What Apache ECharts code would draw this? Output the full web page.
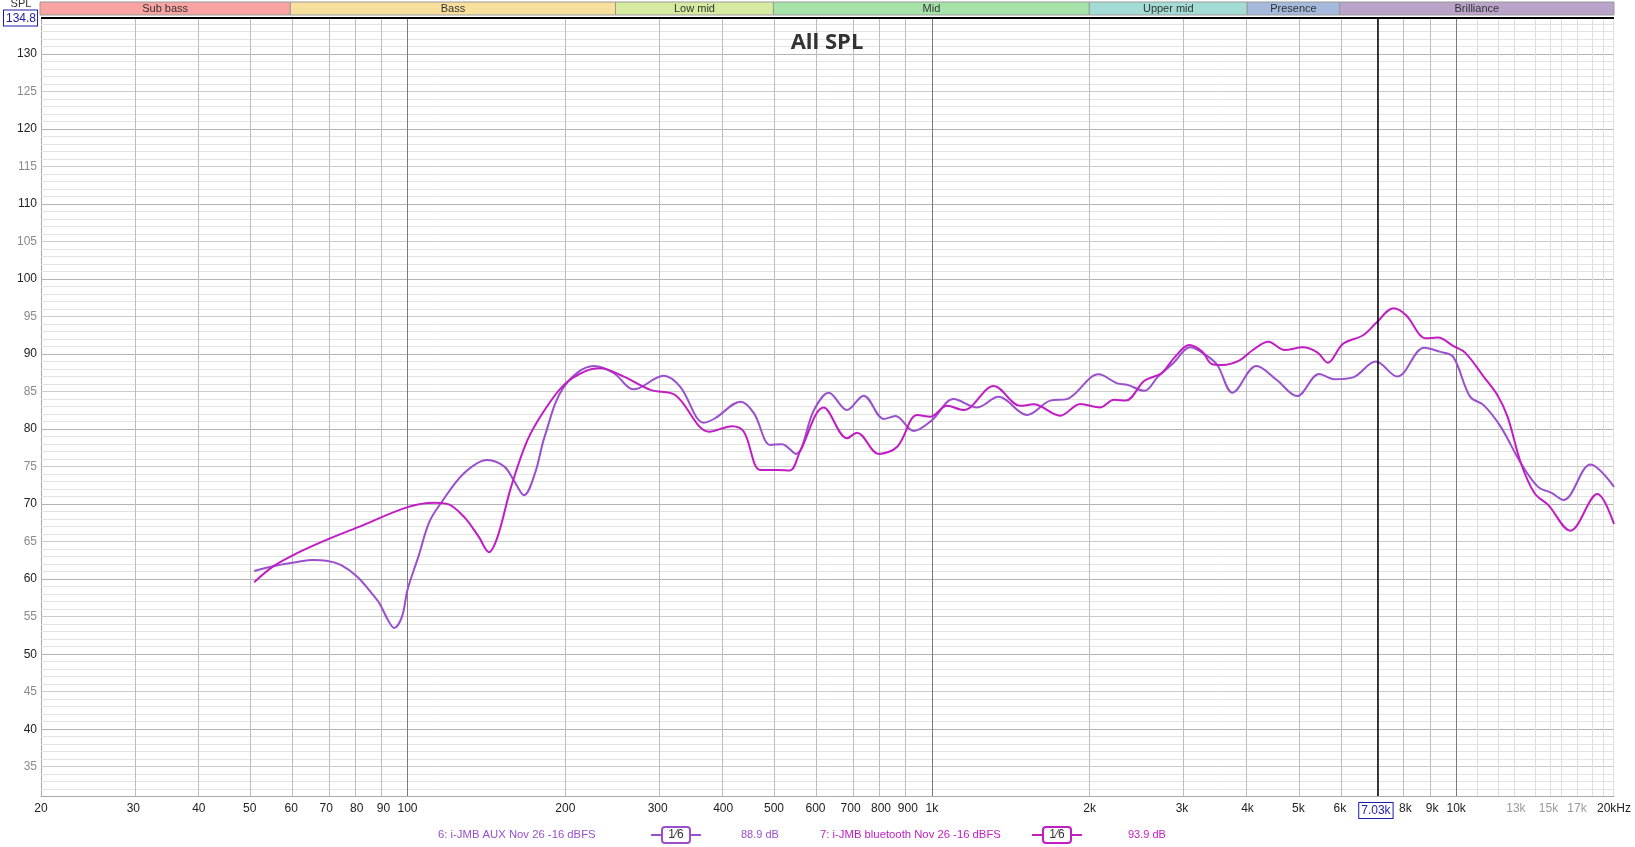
<!DOCTYPE html>
<html><head><meta charset="utf-8">
<script src="https://cdn.jsdelivr.net/npm/echarts@6/dist/echarts.min.js"></script>
<style>html,body{margin:0;padding:0;background:#fff}#c{width:1635px;height:847px}</style>
</head><body><div id="c"></div>
<script>
// ---------- data ----------
const auxFreq = [51,56,61.7,66,70,74.6,80.3,86.4,88.4,91.7,94.3,97.6,100,105,110,115.7,128,142,153,160,166.8,175,182.6,198.8,226.7,247.5,270,308,331,367.5,386,432,458,492,518,550,596,636,689,741,810,852,924,1001,1100,1220,1340,1519,1682,1809,2080,2258,2361,2543,2700,2886,3110,3326,3503,3745,4159,4549,4973,5478,5858,6360,7025,7720,8694,9297,9864,10630,11282,12157,13290,14330,15200,16020,18050,20000];
const auxSpl  = [61.1,61.8,62.3,62.55,62.47,61.9,60.3,57.7,56.8,54.6,53.5,55.0,58.6,63.1,67.6,70.1,74.1,75.9,75.0,73.0,71.2,74.1,79.0,85.66,88.4,87.45,85.3,87.1,85.66,80.86,81.45,83.66,82.1,77.9,78.0,76.7,82.55,84.86,82.55,84.46,81.35,81.75,79.75,81.2,84.0,82.9,84.3,81.9,83.8,84.0,87.3,86.1,85.9,85.1,87.0,88.78,90.9,89.9,88.55,84.86,88.4,86.55,84.4,87.35,86.65,86.9,89.0,87.0,90.86,90.33,89.66,84.33,83.2,80.33,75.45,72.3,71.5,70.56,75.3,72.3];
const btFreq  = [51,55.7,61.7,70.4,80.3,100,112.4,119.5,128.2,136.6,143,148.6,157.6,169.4,182.6,198.8,217.5,233,258.6,291.6,324,376.5,416,438,471,507,536,562,622,689,720,792,859,938,994,1069,1150,1312,1475,1564,1757,1919,2095,2225,2343,2543,2741,2907,3098,3277,3424,3578,3855,4095,4383,4708,5097,5441,5690,6079,6658,7025,7600,8018,8760,9230,9864,10400,11282,11980,12530,13290,14110,14980,16500,18590,20000];
const btSpl   = [59.6,61.8,63.5,65.3,66.9,69.6,70.2,70.0,68.3,65.7,63.6,65.7,72.3,78.56,82.55,85.9,87.66,88.1,87.0,85.2,84.55,79.66,80.4,79.66,74.56,74.56,74.5,77.2,82.9,78.78,79.53,76.7,77.66,81.9,81.66,83.1,82.55,85.75,83.1,83.3,81.8,83.35,82.9,83.9,83.8,86.45,87.45,89.6,91.2,90.33,88.65,88.55,89.13,90.55,91.66,90.55,90.9,90.2,88.86,91.35,92.55,94.1,96.1,95.2,92.1,92.2,91.1,90.2,87.0,84.55,81.66,75.45,71.45,69.9,66.47,71.35,67.35];

const xTickFreqs  = [20,30,40,50,60,70,80,90,100,200,300,400,500,600,700,800,900,1000,2000,3000,4000,5000,6000,7030,8000,9000,10000,13000,15000,17000,20000];
const xTickLabels = ['20','30','40','50','60','70','80','90','100','200','300','400','500','600','700','800','900','1k','2k','3k','4k','5k','6k','7.03k','8k','9k','10k','13k','15k','17k','20kHz'];
const yTickValues = [35,40,45,50,55,60,65,70,75,80,85,90,95,100,105,110,115,120,125,130];
const yMin = 31.1, yMax = 134.8;
const cursorFreq = 7030;

const bandNames = ['Sub bass','Bass','Low mid','Mid','Upper mid','Presence','Brilliance'];
const bandEdges = [20,60,250,500,2000,4000,6000,20000];

const legendNames  = ['6: i-JMB AUX Nov 26 -16 dBFS','7: i-JMB bluetooth Nov 26 -16 dBFS'];
const legendLevels = ['88.9 dB','93.9 dB'];
const smoothingText = '1\u20446';
const titleText = 'All SPL';
const yName = 'SPL';

// ---------- styles ----------
const cAux = '#9a4fcc', cBt = '#c21cc4';
const bandColors = ['#f9a3a3','#f8df9c','#d6eba0','#a6e3a8','#a2dcd4','#a5b9dd','#b9a3c9'];
const TF = '"Liberation Sans", Arial, sans-serif';
const L = Math.log10;
const GL = 40, GR = 21, GT = 18, GB = 51;

// grid line sets
const minorF = [], decadeF = [100,1000,10000], fineF = [];
for (const d of [10,100,1000]) for (let k = 2; k <= 9; k++) if (k*d >= 30) minorF.push(k*d);
for (let k = 11; k <= 20; k++) fineF.push(k*1000);
const hLines = [];
for (let v = 32; v <= 134; v++) {
  let col = '#e3e3e3';
  if (v % 10 === 0) col = '#b4b4b4'; else if (v % 5 === 0) col = '#cbcbcb';
  hLines.push({yAxis: v, lineStyle: {color: col, width: 1, type: 'solid'}});
}
const vLines = [];
fineF.forEach(f => vLines.push({xAxis: L(f), lineStyle: {color: '#dedede', width: 1, type: 'solid'}}));
minorF.forEach(f => vLines.push({xAxis: L(f), lineStyle: {color: '#bdbdbd', width: 1, type: 'solid'}}));
decadeF.forEach(f => vLines.push({xAxis: L(f), lineStyle: {color: '#7a7a7a', width: 1, type: 'solid'}}));
const gridLines = hLines.concat(vLines);
gridLines.push({yAxis: yMax, lineStyle: {color: '#000', width: 2, type: 'solid'}});

const bandData = bandNames.map((n, i) => [
  {xAxis: L(bandEdges[i]), name: n, itemStyle: {color: bandColors[i], borderColor: '#999', borderWidth: 1}},
  {xAxis: L(bandEdges[i+1])}
]);

const xCustom = xTickFreqs.map(L);
function xFmt(v) {
  let idx = 0, best = 1e9;
  xCustom.forEach((c, i) => { const d = Math.abs(c - v); if (d < best) { best = d; idx = i; } });
  const f = xTickFreqs[idx], s = xTickLabels[idx];
  if (f === cursorFreq) return '{cur|' + s + '}';
  if (f > 10000 && f < 20000) return '{g|' + s + '}';
  return s;
}
function yFmt(v) {
  v = Number(v);
  if (Math.abs(v - yMax) < 1e-6) return '{box|' + v.toFixed(1) + '}';
  if (v % 10 === 0) return '{d|' + v + '}';
  return '{g|' + v + '}';
}

function legendItem(x0, color, name, level, lx, bx, vx) {
  const y = 835;
  return [
    {type: 'text', x: x0, y: y, style: {text: name, fill: color, font: '11.3px ' + TF, textAlign: 'left', textVerticalAlign: 'middle', align: 'left', verticalAlign: 'middle'}},
    {type: 'line', shape: {x1: lx, y1: y, x2: lx + 50, y2: y}, style: {stroke: color, lineWidth: 2}},
    {type: 'rect', shape: {x: bx, y: y - 8, width: 28, height: 16, r: 3}, style: {fill: '#fff', stroke: color, lineWidth: 2}},
    {type: 'text', x: bx + 14, y: y, style: {text: smoothingText, fill: '#333', font: '12px ' + TF, textAlign: 'center', textVerticalAlign: 'middle', align: 'center', verticalAlign: 'middle'}},
    {type: 'text', x: vx, y: y, style: {text: level, fill: color, font: '11px ' + TF, textAlign: 'left', textVerticalAlign: 'middle', align: 'left', verticalAlign: 'middle'}}
  ];
}

const chart = echarts.init(document.getElementById('c'));
chart.setOption({
  animation: false,
  backgroundColor: '#fff',
  grid: [
    {left: GL, right: GR, top: GT, bottom: GB},
    {left: GL, right: GR, top: 2, height: 13}
  ],
  xAxis: [
    {type: 'value', gridIndex: 0, min: L(20), max: L(20000),
     axisLine: {show: true, lineStyle: {color: '#aaa'}}, axisTick: {show: false}, splitLine: {show: false},
     axisLabel: {customValues: xCustom, formatter: xFmt, margin: 7, color: '#222', fontSize: 12, fontFamily: TF,
       rich: {cur: {color: '#1c1ca8', borderColor: '#1c1ca8', borderWidth: 1, padding: [2, 2, 1, 2], fontSize: 12, fontFamily: TF, backgroundColor: '#fff'},
              g: {color: '#9a9a9a', fontSize: 12, fontFamily: TF}}}},
    {type: 'value', gridIndex: 1, min: L(20), max: L(20000), show: false}
  ],
  yAxis: [
    {type: 'value', gridIndex: 0, min: yMin, max: yMax,
     axisLine: {show: true, lineStyle: {color: '#aaa'}}, axisTick: {show: false}, splitLine: {show: false},
     axisLabel: {customValues: yTickValues.concat([yMax]), formatter: yFmt, margin: 4, fontSize: 12, fontFamily: TF,
       rich: {d: {color: '#222', fontSize: 12, fontFamily: TF},
              g: {color: '#8a8a8a', fontSize: 12, fontFamily: TF},
              box: {color: '#1c1ca8', borderColor: '#1c1ca8', borderWidth: 1, padding: [2, 1, 1, 2], fontSize: 12, fontFamily: TF, backgroundColor: '#fff'}}}},
    {type: 'value', gridIndex: 1, min: 0, max: 1, show: false}
  ],
  series: [
    {type: 'line', xAxisIndex: 1, yAxisIndex: 1, data: [[L(20), -5]], showSymbol: false, silent: true, lineStyle: {opacity: 0},
     markArea: {silent: true, data: bandData, label: {show: true, position: 'inside', color: '#333', fontSize: 11, fontFamily: TF}}},
    {type: 'line', z: 1, data: [[L(20), -100]], showSymbol: false, silent: true, lineStyle: {opacity: 0},
     markLine: {z: 1, silent: true, symbol: ['none', 'none'], label: {show: false}, emphasis: {disabled: true}, animation: false, data: gridLines}},
    {name: legendNames[0], type: 'line', z: 3, data: auxFreq.map((f, i) => [L(f), auxSpl[i]]), showSymbol: false, smooth: 0.35,
     lineStyle: {color: cAux, width: 2}, itemStyle: {color: cAux}},
    {name: legendNames[1], type: 'line', z: 4, data: btFreq.map((f, i) => [L(f), btSpl[i]]), showSymbol: false, smooth: 0.35,
     lineStyle: {color: cBt, width: 2}, itemStyle: {color: cBt},
     markLine: {z: 5, silent: true, symbol: ['none', 'none'], label: {show: false}, emphasis: {disabled: true},
       data: [{xAxis: L(cursorFreq), lineStyle: {color: '#000', width: 1.5, type: 'solid'}}]}}
  ],
  graphic: [
    {type: 'text', x: (GL + 1635 - GR) / 2, y: 43, z: 10, style: {text: titleText, fill: '#333', font: 'bold 22px "Open Sans", sans-serif', textAlign: 'center', textVerticalAlign: 'middle', align: 'center', verticalAlign: 'middle'}},
    {type: 'text', x: 21, y: 4, z: -1, style: {text: yName, fill: '#333', font: '11px ' + TF, textAlign: 'center', textVerticalAlign: 'middle', align: 'center', verticalAlign: 'middle'}}
  ].concat(legendItem(438, cAux, legendNames[0], legendLevels[0], 651, 662, 741))
   .concat(legendItem(820, cBt, legendNames[1], legendLevels[1], 1032, 1043, 1128))
});
</script></body></html>
